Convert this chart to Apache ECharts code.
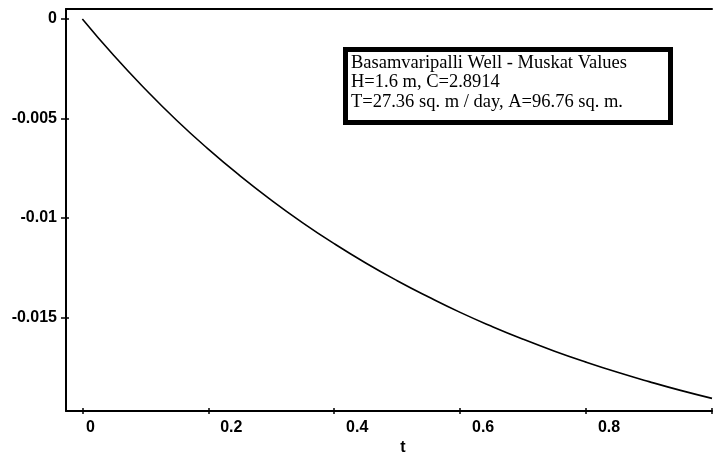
<!DOCTYPE html>
<html><head><meta charset="utf-8">
<script src="https://cdn.jsdelivr.net/npm/echarts@6/dist/echarts.min.js"></script>
<style>html,body{margin:0;padding:0;background:#fff}#c{width:717px;height:461px}</style>
</head><body><div id="c"></div>
<script>
// time values (t) and computed drawdown values
const tValues = [0, 0.05, 0.1, 0.15, 0.2, 0.25, 0.3, 0.35, 0.4, 0.45, 0.5, 0.55, 0.6, 0.65, 0.7, 0.75, 0.8, 0.85, 0.9, 0.95, 1.0];
const drawdown = [0, -0.00184, -0.00353, -0.00510, -0.00654, -0.00787, -0.00910, -0.01024, -0.01129, -0.01226, -0.01315, -0.01397, -0.01474, -0.01544, -0.01609, -0.01669, -0.01724, -0.01775, -0.01822, -0.01866, -0.01906];
const xTickValues = [0, 0.2, 0.4, 0.6, 0.8, 1.0];
const xLabelValues = [0, 0.2, 0.4, 0.6, 0.8];
const xLabelTexts = ['0', '0.2', '0.4', '0.6', '0.8'];
const yTickValues = [0, -0.005, -0.01, -0.015];
const yLabelTexts = ['0', '-0.005', '-0.01', '-0.015'];
const legendLines = ['Basamvaripalli Well - Muskat Values', 'H=1.6 m, C=2.8914', 'T=27.36 sq. m / day, A=96.76 sq. m.'];

const LBL_FONT = '"Liberation Sans Narrow", "Liberation Sans", Arial, sans-serif';
const chart = echarts.init(document.getElementById('c'), null, {renderer: 'canvas'});
const XMIN = -0.026, XMAX = 1.0, YMIN = -0.0197, YMAX = 0.0005;
const axisLineStyle = {color: '#000', width: 2};

chart.setOption({
  animation: false,
  backgroundColor: '#fff',
  grid: {left: 66, right: 5, top: 9, bottom: 33},
  xAxis: [
    {
      type: 'value', position: 'bottom', min: XMIN, max: XMAX,
      axisLine: {show: true, onZero: false, lineStyle: axisLineStyle},
      axisTick: {show: true, customValues: xTickValues, length: 3, lineStyle: {color: '#000', width: 1.5}},
      splitLine: {show: false},
      axisLabel: {
        show: true, customValues: xLabelValues, margin: 8,
        formatter: function (v) {
          const i = xLabelValues.findIndex(x => Math.abs(x - v) < 1e-9);
          const txt = i >= 0 ? xLabelTexts[i] : String(v);
          return (i === 0 ? '{z|' : '{n|') + txt + '}';
        },
        rich: {
          z: {padding: [0, 0, 0, 16], fontFamily: LBL_FONT, fontWeight: 'bold', fontSize: 16, color: '#000'},
          n: {padding: [0, 0, 0, 46], fontFamily: LBL_FONT, fontWeight: 'bold', fontSize: 16, color: '#000'}
        }
      },
      name: 't', nameLocation: 'middle', nameGap: 19,
      nameTextStyle: {fontFamily: LBL_FONT, fontWeight: 'bold', fontSize: 16, color: '#000', padding: [0, 0, 0, 28]}
    },
    {
      type: 'value', position: 'bottom', min: XMIN, max: XMAX,
      axisLine: {show: false, onZero: false},
      axisTick: {show: true, inside: true, customValues: xTickValues, length: 3, lineStyle: {color: '#000', width: 1.5}},
      axisLabel: {show: false}, splitLine: {show: false}
    },
    {
      type: 'value', position: 'top', min: XMIN, max: XMAX,
      axisLine: {show: true, onZero: false, lineStyle: axisLineStyle},
      axisTick: {show: false}, axisLabel: {show: false}, splitLine: {show: false}
    }
  ],
  yAxis: [
    {
      type: 'value', position: 'left', min: YMIN, max: YMAX,
      axisLine: {show: true, onZero: false, lineStyle: axisLineStyle},
      axisTick: {show: true, customValues: yTickValues, length: 5, lineStyle: {color: '#000', width: 1.5}},
      splitLine: {show: false},
      axisLabel: {
        show: true, customValues: yTickValues, margin: 9,
        fontFamily: LBL_FONT, fontWeight: 'bold', fontSize: 16, color: '#000',
        formatter: function (v) {
          const i = yTickValues.findIndex(y => Math.abs(y - v) < 1e-9);
          return i >= 0 ? yLabelTexts[i] : String(v);
        }
      }
    },
    {
      type: 'value', position: 'left', min: YMIN, max: YMAX,
      axisLine: {show: false, onZero: false},
      axisTick: {show: true, inside: true, customValues: yTickValues, length: 3, lineStyle: {color: '#000', width: 1.5}},
      axisLabel: {show: false}, splitLine: {show: false}
    }
  ],
  series: [{
    type: 'line', xAxisIndex: 0, yAxisIndex: 0,
    data: tValues.map((t, i) => [t, drawdown[i]]),
    showSymbol: false, smooth: true,
    lineStyle: {color: '#000', width: 1.6}
  }],
  graphic: [{
    type: 'group', left: 343, top: 47,
    children: [
      {type: 'rect', shape: {x: 2.5, y: 2.5, width: 325, height: 73},
       style: {fill: '#fff', stroke: '#000', lineWidth: 5}},
      {type: 'text', x: 8, y: 6,
       style: {text: legendLines.join('\n'), fill: '#000',
               font: '18.5px "Liberation Serif", "Times New Roman", serif', lineHeight: 19.5}}
    ]
  }]
});
</script>
</body></html>
